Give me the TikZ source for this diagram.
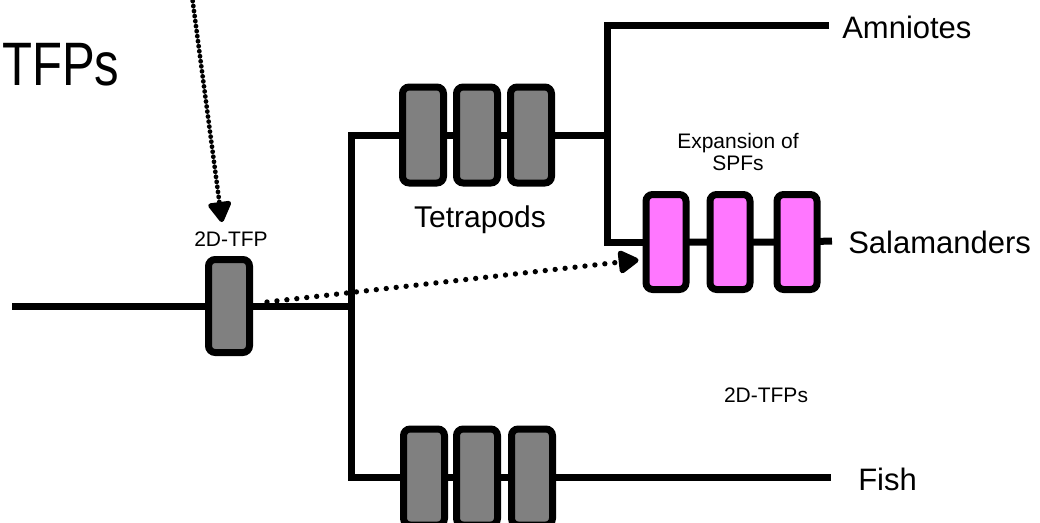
\documentclass[tikz,border=0pt]{standalone}
\usepackage{fontspec}
\setmainfont{Liberation Sans}
\usetikzlibrary{arrows.meta,backgrounds}
\definecolor{boxgray}{HTML}{808080}
\definecolor{boxpink}{HTML}{FF77FF}
\begin{document}
\begin{tikzpicture}[x=0.75pt,y=-0.75pt,
  branch/.style={draw, line width=5.25pt},
  genebox/.style={draw, line width=5.25pt, rounded corners=5pt, minimum width=30.75pt, minimum height=72pt, inner sep=0pt, fill=boxgray},
  pinkbox/.style={genebox, fill=boxpink, minimum width=30pt, minimum height=71.25pt},
  biglabel/.style={font=\fontsize{23.25pt}{28pt}\selectfont, inner sep=0pt, anchor=base west},
  smalllabel/.style={font=\fontsize{15.75pt}{16.5pt}\selectfont, inner sep=0pt, anchor=base, align=center},
  dotarrow/.style={line width=4pt, line cap=round, dash pattern=on 0pt off 7.5pt, -{Triangle[length=17pt,width=19pt,round]}},
]
\useasboundingbox (0,0) rectangle (1040,522);
% boxes
\node[genebox, minimum height=69.75pt] (tfp) at (229,306) {};
\node[genebox] (t1) at (423,135) {};
\node[genebox] (t2) at (477,135) {};
\node[genebox] (t3) at (531,135) {};
\node[genebox] (f1) at (424,477) {};
\node[genebox] (f2) at (477,477) {};
\node[genebox] (f3) at (532,477) {};
\node[pinkbox] (p1) at (666,242) {};
\node[pinkbox] (p2) at (730,242) {};
\node[pinkbox] (p3) at (797,242) {};
% labels
\node[font=\fontsize{46pt}{50pt}\selectfont, inner sep=0pt, anchor=base west, xscale=0.8] (big) at (2,85) {TFPs};
\node[smalllabel] (lbl) at (231,246) {2D-TFP};
\node[smalllabel, font=\fontsize{22.5pt}{27pt}\selectfont] (tet) at (480,227) {Tetrapods};
\node[smalllabel, anchor=north] (exp) at (738,133) {Expansion of\\SPFs};
\node[smalllabel] (tfps) at (766,402) {2D-TFPs};
\node[biglabel] (amn) at (842,38) {Amniotes};
\node[biglabel] (sal) at (848,253) {Salamanders};
\node[biglabel] (fish) at (858,490) {Fish};
% coordinates
\coordinate (root) at (12,306);
\coordinate (j1) at (351,306);
\coordinate (j2) at (607,135);
\coordinate (ae) at (829,25);
\coordinate (se) at (832,241);
\coordinate (fe) at (831,477);
\coordinate (vtop) at (192,-4);
\begin{scope}[on background layer]
\path[branch] (root) -- (tfp.center) -- (j1);
\path[branch] (t1.west) -| (j1);
\path[branch] (f1.west) -| (j1);
\path[branch] (t1.center) -- (t2.center) -- (t3.center) -- (j2);
\path[branch] (ae) -| (j2);
\path[branch] (p1.west) -| (j2);
\path[branch] (p1.center) -- (p2.center) -- (p3.center) -- (se);
\path[branch] (f1.center) -- (f2.center) -- (f3.center) -- (fe);
\end{scope}
% dotted arrows
\draw[dotarrow, line width=3.6pt, dash pattern=on 0pt off 3.8pt] (vtop) -- ([shift={(-9,-9)}]lbl.north);
\draw[dotarrow] ([shift={(14,-4)}]tfp.east) -- ([shift={(-4,18)}]p1.west);
\end{tikzpicture}
\end{document}
